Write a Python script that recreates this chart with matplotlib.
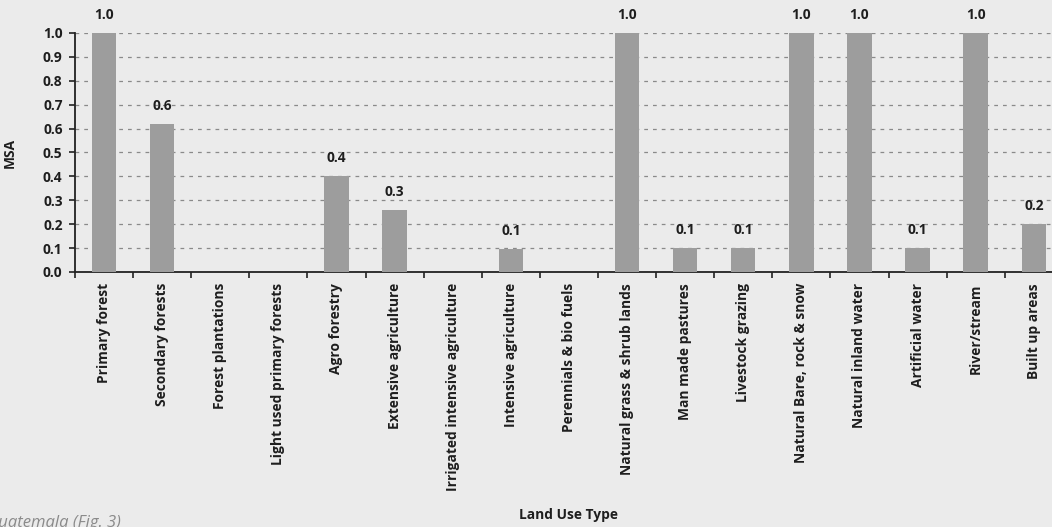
import matplotlib
matplotlib.use("Agg")
import matplotlib.pyplot as plt
import numpy as np

# land use categories and their MSA values
land_use = [
    "Primary forest", "Secondary forests", "Forest plantations",
    "Light used primary forests", "Agro forestry", "Extensive agriculture",
    "Irrigated intensive agriculture", "Intensive agriculture",
    "Perennials & bio fuels", "Natural grass & shrub lands",
    "Man made pastures", "Livestock grazing", "Natural Bare, rock & snow",
    "Natural inland water", "Artificial water", "River/stream",
    "Built up areas",
]
msa = [1.0, 0.62, 0.0, 0.0, 0.4, 0.26, 0.0, 0.095, 0.0, 1.0,
       0.1, 0.1, 1.0, 1.0, 0.1, 1.0, 0.2]
y_ticks = [0.0, 0.1, 0.2, 0.3, 0.4, 0.5, 0.6, 0.7, 0.8, 0.9, 1.0]

plt.rcParams["font.family"] = ["Open Sans", "DejaVu Sans"]
plt.rcParams["font.weight"] = "bold"

bg = "#ebebeb"
txt = "#1e1e1e"
fs = 9.9

fig = plt.figure(figsize=(10.52, 5.27), dpi=100, facecolor=bg)
# axes runs a little past the right edge of the figure
ax = fig.add_axes([0.0713, 0.4839, 0.939, 0.4535], facecolor=bg)

x = np.arange(len(land_use))
bars = ax.bar(x, msa, width=0.42, color="#9d9d9d", zorder=3)

# value labels (zero bars stay unlabelled)
for xi, v in zip(x, msa):
    if v > 0:
        ax.annotate(f"{v:.1f}", (xi, v), xytext=(0, 8),
                    textcoords="offset points", ha="center", va="bottom",
                    fontsize=fs, fontweight="bold", color=txt)

ax.set_xlim(-0.5, len(land_use) - 0.5)
ax.set_ylim(0, 1.0)
ax.set_yticks(y_ticks)
ax.set_yticklabels([f"{t:.1f}" for t in y_ticks])
ax.yaxis.grid(True, linestyle=(0, (3, 4)), color="#8a8a8a", linewidth=0.9, zorder=1)
ax.set_axisbelow(True)

# tick marks sit on the category boundaries, labels in the middle
ax.set_xticks(np.arange(len(land_use) + 1) - 0.5)
ax.set_xticklabels([])
ax.set_xticks(x, minor=True)
ax.set_xticklabels(land_use, minor=True, rotation=90, va="top", ha="center",
                   fontsize=fs, fontweight="bold", color=txt)
ax.tick_params(axis="x", which="minor", length=0, pad=8)
ax.tick_params(axis="x", which="major", length=4, width=1.2, color="#222222")
ax.tick_params(axis="y", length=4, width=1.2, color="#222222",
               labelsize=fs, labelcolor=txt, pad=5)

for s in ["top", "right"]:
    ax.spines[s].set_visible(False)
for s in ["left", "bottom"]:
    ax.spines[s].set_color("#222222")
    ax.spines[s].set_linewidth(1.3)

ax.set_ylabel("MSA", fontsize=fs, fontweight="bold", color=txt)
ax.yaxis.set_label_coords(-0.059, 0.5)
fig.text(0.5405, 0.023, "Land Use Type", ha="center", va="center",
         fontsize=fs, fontweight="bold", color=txt)

# caption fragment from the running text below the chart
fig.text(-0.012, -0.008, "Guatemala (Fig. 3)", ha="left", va="bottom",
         fontsize=12, style="italic", fontweight="normal", color="#8a8a8a")

fig.savefig("out.png", dpi=100, facecolor=bg)
